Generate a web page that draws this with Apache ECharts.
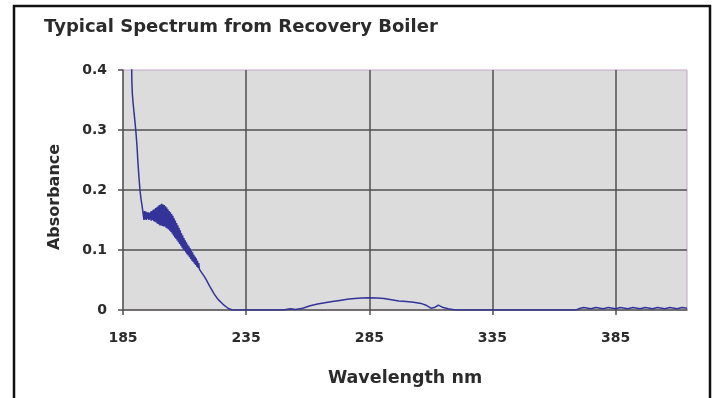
<!DOCTYPE html>
<html>
<head>
<meta charset="utf-8">
<script src="https://cdn.jsdelivr.net/npm/echarts@6/dist/echarts.min.js"></script>
<style>
  html, body { margin: 0; padding: 0; background: #fff; }
  #chart { width: 717px; height: 398px; }
</style>
</head>
<body>
<div id="chart"></div>
<script>
// wavelength (nm) and absorbance
// (the noisy 193-216 nm stretch is kept as the up/down readings of the scan)
const wavelengths = [
  188.5, 188.6, 188.8, 189.1, 189.5, 189.9, 190.3, 190.7, 191.0, 191.5, 191.9, 192.3, 192.7, 193.0,
  193.25, 193.5, 193.75, 194.0, 194.25, 194.5, 194.75, 195.0, 195.25, 195.5, 195.75, 196.0,
  196.25, 196.5, 196.75, 197.0, 197.25, 197.5, 197.75, 198.0, 198.25, 198.5, 198.75, 199.0,
  199.25, 199.5, 199.75, 200.0, 200.25, 200.5, 200.75, 201.0, 201.25, 201.5, 201.75, 202.0,
  202.25, 202.5, 202.75, 203.0, 203.25, 203.5, 203.75, 204.0, 204.25, 204.5, 204.75, 205.0,
  205.25, 205.5, 205.75, 206.0, 206.25, 206.5, 206.75, 207.0, 207.25, 207.5, 207.75, 208.0,
  208.25, 208.5, 208.75, 209.0, 209.25, 209.5, 209.75, 210.0, 210.25, 210.5, 210.75, 211.0,
  211.25, 211.5, 211.75, 212.0, 212.25, 212.5, 212.75, 213.0, 213.25, 213.5, 213.75, 214.0,
  214.25, 214.5, 214.75, 215.0, 215.25, 215.5, 215.75, 216.0,
  217, 218, 219, 220, 221, 222, 223, 224, 225, 226, 227, 228, 229.5, 240, 250,
  253, 255, 258, 261, 264, 267, 270, 273, 276, 279, 282, 285, 288, 291, 294, 297, 300, 303, 306,
  308, 310, 311.5, 313, 315, 317, 320, 340, 360, 369,
  370, 372, 375, 377, 380, 382, 385, 387, 390, 392, 395, 397, 400, 402, 405, 407, 410, 412, 414
];
const absorbance = [
  0.41, 0.38, 0.36, 0.345, 0.328, 0.312, 0.294, 0.272, 0.25, 0.22, 0.20, 0.185, 0.175, 0.166,
  0.158, 0.150, 0.165, 0.151, 0.164, 0.150, 0.163, 0.152, 0.163, 0.150, 0.162, 0.151,
  0.164, 0.149, 0.165, 0.150, 0.167, 0.148, 0.168, 0.147, 0.170, 0.146, 0.171, 0.144,
  0.173, 0.143, 0.175, 0.141, 0.176, 0.141, 0.177, 0.140, 0.176, 0.139, 0.175, 0.139,
  0.173, 0.137, 0.171, 0.136, 0.168, 0.134, 0.165, 0.132, 0.163, 0.130, 0.160, 0.127,
  0.157, 0.124, 0.153, 0.121, 0.149, 0.119, 0.145, 0.116, 0.141, 0.113, 0.137, 0.110,
  0.133, 0.107, 0.128, 0.104, 0.124, 0.101, 0.120, 0.099, 0.116, 0.096, 0.113, 0.093,
  0.109, 0.091, 0.106, 0.088, 0.103, 0.085, 0.099, 0.082, 0.096, 0.080, 0.092, 0.077,
  0.089, 0.075, 0.086, 0.072, 0.082, 0.070, 0.078, 0.068,
  0.062, 0.056, 0.049, 0.041, 0.034, 0.027, 0.021, 0.016, 0.012, 0.008, 0.005, 0.002, 0.000, 0.000, 0.000,
  0.002, 0.001, 0.003, 0.007, 0.010, 0.012, 0.014, 0.016, 0.018, 0.019, 0.020, 0.0205, 0.020, 0.019, 0.017, 0.015, 0.014, 0.013, 0.011,
  0.008, 0.003, 0.004, 0.008, 0.004, 0.002, 0.000, 0.000, 0.000, 0.000,
  0.002, 0.004, 0.002, 0.004, 0.002, 0.004, 0.002, 0.004, 0.002, 0.004, 0.002, 0.004, 0.002, 0.004, 0.002, 0.004, 0.002, 0.004, 0.003
];

const titleText = 'Typical Spectrum from Recovery Boiler'
const xName = 'Wavelength nm'
const yName = 'Absorbance'

const font = 'DejaVu Sans'
const textColor = '#2b2b2b'
const gridColor = '#505050'
const frameColor = '#c4a6c4'

const chart = echarts.init(document.getElementById('chart'), null, { renderer: 'canvas' })

chart.setOption({
  animation: false,
  backgroundColor: '#fff',
  title: {
    text: titleText,
    left: 44,
    top: 18,
    padding: 0,
    textStyle: { fontFamily: font, fontSize: 18, fontWeight: 'bold', color: textColor }
  },
  graphic: [{
    type: 'rect',
    shape: { x: 14, y: 6, width: 696, height: 430 },
    style: { fill: 'none', stroke: '#111', lineWidth: 2.5 },
    silent: true
  }],
  grid: {
    left: 123,
    top: 70,
    right: 30,
    bottom: 88,
    show: true,
    backgroundColor: '#dcdcdc',
    borderColor: frameColor,
    borderWidth: 1
  },
  xAxis: {
    type: 'value',
    min: 185,
    max: 414,
    interval: 50,
    name: xName,
    nameLocation: 'middle',
    nameGap: 59,
    nameTextStyle: { fontFamily: font, fontSize: 17.5, fontWeight: 'bold', color: textColor },
    axisLine: { show: true, onZero: false, lineStyle: { color: gridColor, width: 1.5 } },
    axisTick: { show: true, length: 5, lineStyle: { color: gridColor, width: 1.5 } },
    axisLabel: {
      margin: 21, showMaxLabel: false,
      fontFamily: font, fontSize: 14, fontWeight: 'bold', color: textColor
    },
    splitLine: { show: true, showMinLine: false, showMaxLine: false, lineStyle: { color: gridColor, width: 1.5 } }
  },
  yAxis: {
    type: 'value',
    min: 0,
    max: 0.4,
    interval: 0.1,
    name: yName,
    nameLocation: 'middle',
    nameGap: 60,
    nameTextStyle: {
      fontFamily: font, fontSize: 16, fontWeight: 'bold', color: textColor,
      padding: [0, 14, 0, 0]
    },
    axisLine: { show: true, lineStyle: { color: gridColor, width: 1.5 } },
    axisTick: { show: true, length: 5, lineStyle: { color: gridColor, width: 1.5 } },
    axisLabel: { margin: 16, fontFamily: font, fontSize: 14, fontWeight: 'bold', color: textColor },
    splitLine: { show: true, showMinLine: false, showMaxLine: false, lineStyle: { color: gridColor, width: 1.5 } }
  },
  series: [{
    type: 'line',
    data: wavelengths.map((w, i) => [w, absorbance[i]]),
    showSymbol: false,
    smooth: false,
    clip: true,
    lineStyle: { color: '#33339a', width: 1.5 }
  }]
})
</script>
</body>
</html>
